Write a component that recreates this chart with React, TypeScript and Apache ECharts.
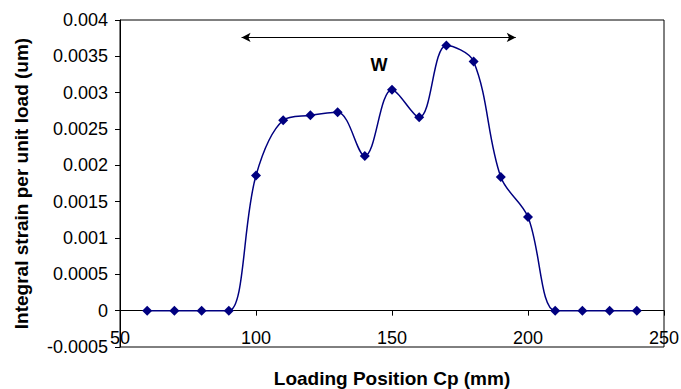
import React, { useEffect, useRef } from "react";
import * as echarts from "echarts";

const positions = [60, 70, 80, 90, 100, 110, 120, 130, 140, 150, 160, 170, 180, 190, 200, 210, 220, 230, 240];
const strain = [0, 0, 0, 0, 0.00186, 0.00262, 0.00269, 0.00273, 0.00213, 0.00304, 0.00266, 0.00365, 0.00343, 0.00184, 0.00129, 0, 0, 0, 0];
const arrowStart = [94.7, 0.00376];
const arrowEnd = [195.5, 0.00376];
const wLabelPos = [145.2, 0.00338];
const wLabel = "W";
const xTitle = "Loading Position Cp (mm)";
const yTitle = "Integral strain per unit load (um)";

export default function App() {
  const ref = useRef<HTMLDivElement>(null);
  useEffect(() => {
    if (!ref.current) return;
    const chart = echarts.init(ref.current, null, { renderer: "svg" });
    const font = "'Liberation Sans', Arial, sans-serif";
    chart.setOption({
      animation: false,
      backgroundColor: "#ffffff",
      grid: {
        left: 120,
        right: 17,
        top: 20,
        bottom: 42,
        outerBoundsMode: "none",
        containLabel: false,
        show: true,
        borderColor: "#000000",
        borderWidth: 1,
        backgroundColor: "transparent",
      },
      xAxis: {
        type: "value",
        min: 50,
        max: 250,
        interval: 50,
        name: xTitle,
        nameLocation: "middle",
        nameGap: 22,
        nameTextStyle: { fontFamily: font, fontSize: 19, fontWeight: "bold", color: "#000" },
        axisLine: { onZero: true, lineStyle: { color: "#000", width: 1 } },
        axisTick: { show: true, inside: false, length: 5, lineStyle: { color: "#000" } },
        axisLabel: { fontFamily: font, fontSize: 18, color: "#000", margin: -18 },
        splitLine: { show: false },
      },
      yAxis: {
        type: "value",
        min: -0.0005,
        max: 0.004,
        interval: 0.0005,
        name: yTitle,
        nameLocation: "middle",
        nameGap: 89,
        nameTextStyle: { fontFamily: font, fontSize: 19, fontWeight: "bold", color: "#000" },
        axisLine: { show: true, lineStyle: { color: "#000", width: 1 } },
        axisTick: { show: true, inside: false, length: 5, lineStyle: { color: "#000" } },
        axisLabel: {
          fontFamily: font,
          fontSize: 18,
          color: "#000",
          margin: 12,
          formatter: (v: number) => String(parseFloat(v.toFixed(4))),
        },
        splitLine: { show: false },
      },
      series: [
        {
          type: "line",
          data: positions.map((x, i) => [x, strain[i]]),
          smooth: 0.35,
          symbol: "diamond",
          symbolSize: 10,
          itemStyle: { color: "#000080" },
          lineStyle: { color: "#000080", width: 1.5 },
          z: 3,
        },
        {
          type: "line",
          data: [],
          markLine: {
            silent: true,
            symbol: ["arrow", "arrow"],
            symbolSize: [7, 9],
            label: { show: false },
            lineStyle: { color: "#000", width: 1.2, type: "solid" },
            data: [[{ coord: arrowStart }, { coord: arrowEnd }]],
          },
          markPoint: {
            silent: true,
            symbol: "circle",
            symbolSize: 0,
            label: {
              show: true,
              position: "inside",
              formatter: wLabel,
              fontFamily: font,
              fontSize: 18,
              fontWeight: "bold",
              color: "#000",
            },
            data: [{ coord: wLabelPos }],
          },
        },
      ],
    });
    return () => chart.dispose();
  }, []);
  return <div ref={ref} style={{ width: 681, height: 389, position: "absolute", left: 0, top: 0 }} />;
}
